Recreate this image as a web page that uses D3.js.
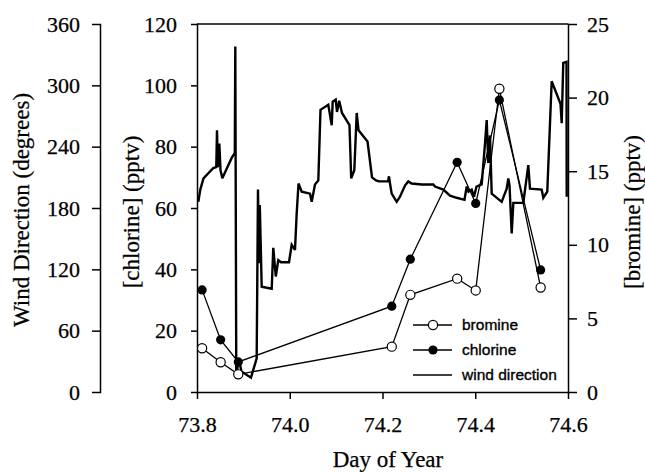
<!DOCTYPE html>
<html>
<head>
<meta charset="utf-8">
<script src="https://cdn.jsdelivr.net/npm/d3@7"></script>
<style>
body { margin: 0; background: #fff; }
.axis text { font-family: "Liberation Serif", "Times New Roman", serif; font-size: 22px; fill: #000; stroke: #000; stroke-width: 0.25; }
.axis path, .axis line { stroke: #000; stroke-width: 1.5; }
.title { font-family: "Liberation Serif", "Times New Roman", serif; font-size: 23px; fill: #000; stroke: #000; stroke-width: 0.25; }
.legend text { font-family: "Liberation Sans", Arial, sans-serif; font-size: 15.5px; fill: #000; stroke: #000; stroke-width: 0.35; }
</style>
</head>
<body>
<script>
// sample times (day of year) for the halogen measurements
var sampleDays = [73.811, 73.851, 73.889, 74.220, 74.260, 74.361, 74.401, 74.452, 74.541];
var chlorine = [33.3, 17, 9.8, 28, 43.3, 74.9, 61.5, 95.2, 39.8];
var bromine = [2.97, 2.02, 1.2, 3.08, 6.6, 7.7, 6.9, 20.6, 7.1];

// wind direction trace
var windDay = [73.8028, 73.8071, 73.814, 73.8244, 73.8351, 73.8416, 73.8431, 73.8449, 73.8481, 73.8507,
    73.8546, 73.8748, 73.8815, 73.8826, 73.8847, 73.8895, 73.896, 73.9164, 73.9287, 73.9315,
    73.9337, 73.9354, 73.9395, 73.9611, 73.9645, 73.9699, 73.9753, 73.9811, 73.9984, 74.0042,
    74.0113, 74.015, 74.0189, 74.0258, 74.0437, 74.0473, 74.0544, 74.0616, 74.0663, 74.0831,
    74.0905, 74.0926, 74.0991, 74.1019, 74.1066, 74.1127, 74.1288, 74.1325, 74.1392, 74.1444,
    74.1483, 74.1677, 74.1774, 74.186, 74.1925, 74.2119, 74.214, 74.2162, 74.2198, 74.2306,
    74.2377, 74.2485, 74.2556, 74.2629, 74.2845, 74.3095, 74.3132, 74.3311, 74.3456, 74.36,
    74.3768, 74.3816, 74.3854, 74.3923, 74.3973, 74.4027, 74.4139, 74.421, 74.4247, 74.4281,
    74.4318, 74.4355, 74.457, 74.4678, 74.4713, 74.4739, 74.4786, 74.4821, 74.5036, 74.5144,
    74.518, 74.5433, 74.5467, 74.5553, 74.5648, 74.5838, 74.5864, 74.5898, 74.5968, 74.5972];
var windDeg = [186, 198, 209, 214, 219, 220, 256, 220, 243, 217,
    209, 229, 234, 338, 13, 33, 20, 14, 33, 198,
    126, 183, 103, 101, 141, 113, 129, 127, 127, 144,
    139, 175, 204, 196, 194, 186, 203, 207, 276, 281,
    261, 284, 286, 274, 285, 273, 261, 209, 217, 273,
    256, 245, 210, 207, 206, 206, 211, 204, 194, 186,
    191, 202, 206, 204, 203, 203, 201, 198, 192, 190,
    188, 201, 196, 198, 191, 201, 203, 243, 266, 224,
    251, 194, 186, 199, 209, 202, 155, 185, 185, 222,
    199, 198, 190, 196, 304, 282, 263, 322, 323, 191];

var xTicks = [73.8, 74.0, 74.2, 74.4, 74.6];
var windTicks = [0, 60, 120, 180, 240, 300, 360];
var chlorineTicks = [0, 20, 40, 60, 80, 100, 120];
var bromineTicks = [0, 5, 10, 15, 20, 25];
var legendLabels = ["bromine", "chlorine", "wind direction"];

var width = 645,
    height = 472,
    plotLeft = 197,
    plotRight = 568,
    plotTop = 24,
    plotBottom = 392;

var svg = d3.select("body")
    .append("svg")
    .attr("width", width)
    .attr("height", height);

var xScale = d3.scaleLinear().domain([73.8, 74.6]).range([plotLeft, plotRight]);
var yWind = d3.scaleLinear().domain([0, 360]).range([plotBottom, plotTop]);
var yChlorine = d3.scaleLinear().domain([0, 120]).range([plotBottom, plotTop]);
var yBromine = d3.scaleLinear().domain([0, 25]).range([plotBottom, plotTop]);

// top frame
svg.append("line")
    .attr("x1", plotLeft).attr("x2", plotRight)
    .attr("y1", plotTop).attr("y2", plotTop)
    .attr("stroke", "#000").attr("stroke-width", 1.5);

// axes
svg.append("g")
    .attr("class", "axis")
    .attr("transform", "translate(0," + plotBottom + ")")
    .call(d3.axisBottom(xScale).tickValues(xTicks).tickFormat(d3.format(".1f")).tickSize(7).tickSizeOuter(0).tickPadding(17));

svg.append("g")
    .attr("class", "axis")
    .attr("transform", "translate(100,0)")
    .call(d3.axisLeft(yWind).tickValues(windTicks).tickSize(8).tickSizeOuter(0).tickPadding(12));

svg.append("g")
    .attr("class", "axis")
    .attr("transform", "translate(" + plotLeft + ",0)")
    .call(d3.axisLeft(yChlorine).tickValues(chlorineTicks).tickSize(6).tickSizeOuter(0).tickPadding(14));

svg.append("g")
    .attr("class", "axis")
    .attr("transform", "translate(" + plotRight + ",0)")
    .call(d3.axisRight(yBromine).tickValues(bromineTicks).tickSize(9).tickSizeOuter(0).tickPadding(10));

svg.selectAll(".axis path.domain").attr("stroke-linecap", "square");

// wind direction line
var windLine = d3.line()
    .x(function(d, i) { return xScale(windDay[i]); })
    .y(function(d) { return yWind(d); });

svg.append("path")
    .attr("d", windLine(windDeg))
    .attr("fill", "none")
    .attr("stroke", "#000")
    .attr("stroke-width", 2.4)
    .attr("stroke-linejoin", "miter")
    .attr("stroke-miterlimit", 3);

// chlorine
var clLine = d3.line()
    .x(function(d, i) { return xScale(sampleDays[i]); })
    .y(function(d) { return yChlorine(d); });

svg.append("path")
    .attr("d", clLine(chlorine))
    .attr("fill", "none")
    .attr("stroke", "#000")
    .attr("stroke-width", 1.3);

// bromine
var brLine = d3.line()
    .x(function(d, i) { return xScale(sampleDays[i]); })
    .y(function(d) { return yBromine(d); });

svg.append("path")
    .attr("d", brLine(bromine))
    .attr("fill", "none")
    .attr("stroke", "#000")
    .attr("stroke-width", 1.3);

svg.selectAll("circle.cl")
    .data(chlorine)
    .enter()
    .append("circle")
        .attr("class", "cl")
        .attr("cx", function(d, i) { return xScale(sampleDays[i]); })
        .attr("cy", function(d) { return yChlorine(d); })
        .attr("r", 4.6)
        .attr("fill", "#000");

svg.selectAll("circle.br")
    .data(bromine)
    .enter()
    .append("circle")
        .attr("class", "br")
        .attr("cx", function(d, i) { return xScale(sampleDays[i]); })
        .attr("cy", function(d) { return yBromine(d); })
        .attr("r", 4.6)
        .attr("fill", "#fff")
        .attr("stroke", "#000")
        .attr("stroke-width", 1.2);

// axis titles
svg.append("text")
    .attr("class", "title")
    .attr("transform", "translate(29,210) rotate(-90)")
    .attr("text-anchor", "middle")
    .text("Wind Direction (degrees)");

svg.append("text")
    .attr("class", "title")
    .attr("transform", "translate(139,212) rotate(-90)")
    .attr("text-anchor", "middle")
    .text("[chlorine] (pptv)");

svg.append("text")
    .attr("class", "title")
    .attr("transform", "translate(640,212) rotate(-90)")
    .attr("text-anchor", "middle")
    .text("[bromine] (pptv)");

svg.append("text")
    .attr("class", "title")
    .attr("x", 388)
    .attr("y", 467)
    .attr("text-anchor", "middle")
    .text("Day of Year");

// legend
var legend = svg.append("g").attr("class", "legend");
var legendY = [325, 350, 375];

legend.selectAll("line")
    .data(legendLabels)
    .enter()
    .append("line")
        .attr("x1", 413).attr("x2", 452)
        .attr("y1", function(d, i) { return legendY[i]; })
        .attr("y2", function(d, i) { return legendY[i]; })
        .attr("stroke", "#000")
        .attr("stroke-width", function(d, i) { return i == 2 ? 1.6 : 1.3; });

legend.append("circle")
    .attr("cx", 433).attr("cy", legendY[0]).attr("r", 4.6)
    .attr("fill", "#fff").attr("stroke", "#000").attr("stroke-width", 1.2);
legend.append("circle")
    .attr("cx", 433).attr("cy", legendY[1]).attr("r", 4.6)
    .attr("fill", "#000");

legend.selectAll("text")
    .data(legendLabels)
    .enter()
    .append("text")
        .attr("x", 462)
        .attr("y", function(d, i) { return legendY[i] + 5; })
        .text(function(d) { return d; });
</script>
</body>
</html>
